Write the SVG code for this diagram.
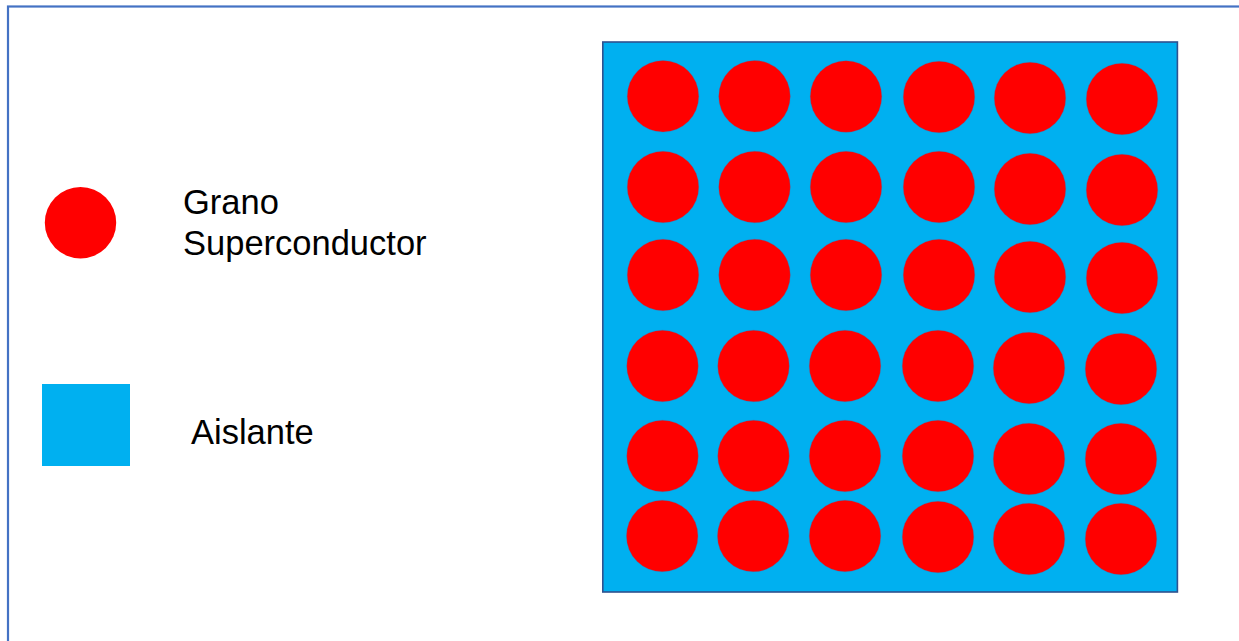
<svg xmlns="http://www.w3.org/2000/svg" width="1239" height="641" viewBox="0 0 1239 641">
<style>
.grain{fill:#FF0000;stroke:#3F6FB0;stroke-width:0.6;stroke-opacity:0.5}
.lbl{font-family:"Liberation Sans",Arial,sans-serif;font-size:34.5px;fill:#000}
</style>
<rect width="1239" height="641" fill="#FFFFFF"/>
<rect id="frame" x="8" y="6.5" width="1240" height="660" fill="none" stroke="#4472C4" stroke-width="2.2"/>
<g id="legend-grain">
<circle cx="80.5" cy="222.7" r="35.7" fill="#FF0000"/>
<text class="lbl" x="183" y="213.5">Grano</text>
<text class="lbl" x="183" y="255">Superconductor</text>
</g>
<g id="legend-insulator">
<rect x="42" y="384" width="88" height="82" fill="#00B0F0"/>
<text class="lbl" x="191" y="444">Aislante</text>
</g>
<g id="sample">
<rect x="602.8" y="42" width="574.6" height="550" fill="#00B0F0" stroke="#2F528F" stroke-width="1.6"/>
<g id="grains">
<circle class="grain" cx="663" cy="96.3" r="35.8"/>
<circle class="grain" cx="754.5" cy="96.3" r="35.8"/>
<circle class="grain" cx="846" cy="96.5" r="35.8"/>
<circle class="grain" cx="939" cy="97" r="35.8"/>
<circle class="grain" cx="1030" cy="98" r="35.8"/>
<circle class="grain" cx="1122" cy="99" r="35.8"/>
<circle class="grain" cx="663" cy="187" r="35.8"/>
<circle class="grain" cx="754.5" cy="187" r="35.8"/>
<circle class="grain" cx="846" cy="187" r="35.8"/>
<circle class="grain" cx="939" cy="187" r="35.8"/>
<circle class="grain" cx="1030" cy="189" r="35.8"/>
<circle class="grain" cx="1122" cy="190" r="35.8"/>
<circle class="grain" cx="663" cy="275" r="35.8"/>
<circle class="grain" cx="754.5" cy="275" r="35.8"/>
<circle class="grain" cx="846" cy="275" r="35.8"/>
<circle class="grain" cx="939" cy="275" r="35.8"/>
<circle class="grain" cx="1030" cy="277" r="35.8"/>
<circle class="grain" cx="1122" cy="278" r="35.8"/>
<circle class="grain" cx="662.5" cy="366" r="35.8"/>
<circle class="grain" cx="753.5" cy="366" r="35.8"/>
<circle class="grain" cx="845" cy="366" r="35.8"/>
<circle class="grain" cx="938" cy="366" r="35.8"/>
<circle class="grain" cx="1029" cy="368" r="35.8"/>
<circle class="grain" cx="1121" cy="369" r="35.8"/>
<circle class="grain" cx="662.5" cy="456" r="35.8"/>
<circle class="grain" cx="753.5" cy="456" r="35.8"/>
<circle class="grain" cx="845" cy="456" r="35.8"/>
<circle class="grain" cx="938" cy="456" r="35.8"/>
<circle class="grain" cx="1029" cy="459" r="35.8"/>
<circle class="grain" cx="1121" cy="459" r="35.8"/>
<circle class="grain" cx="662.2" cy="536" r="35.8"/>
<circle class="grain" cx="753.2" cy="536" r="35.8"/>
<circle class="grain" cx="845" cy="536" r="35.8"/>
<circle class="grain" cx="938" cy="537" r="35.8"/>
<circle class="grain" cx="1029" cy="539" r="35.8"/>
<circle class="grain" cx="1121" cy="539" r="35.8"/>
</g>
</g>
</svg>
